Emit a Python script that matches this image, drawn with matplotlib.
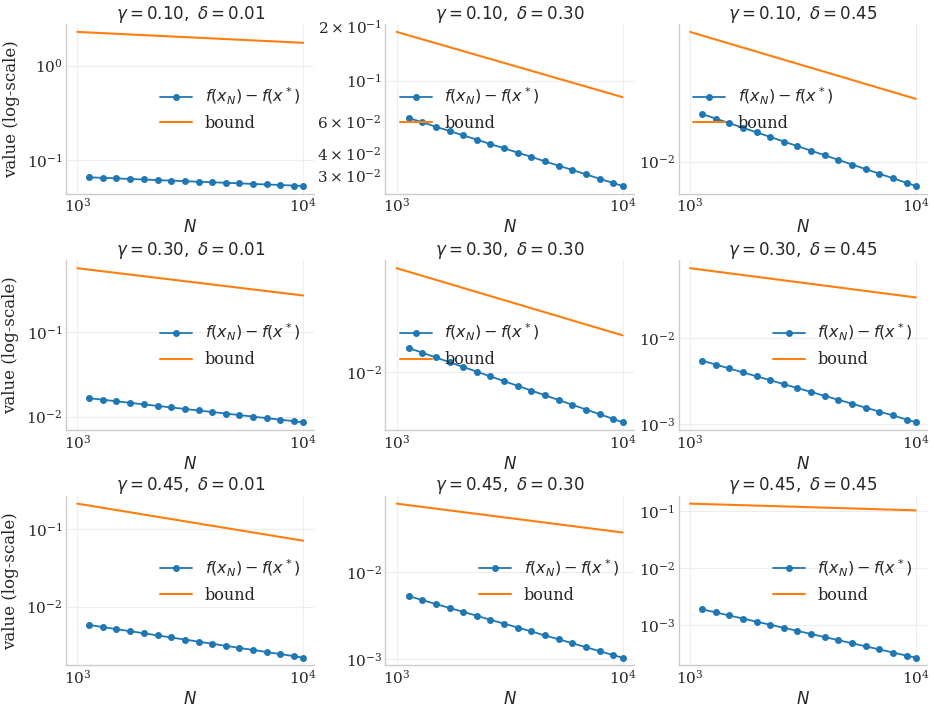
import matplotlib
matplotlib.use("Agg")
import matplotlib.pyplot as plt
import seaborn as sns

sns.set_theme(style="whitegrid", context="notebook")
plt.rcParams["font.family"] = ["DejaVu Serif"]
plt.rcParams["mathtext.fontset"] = "dejavusans"

# ---------------- data ----------------
gammas = [0.10, 0.30, 0.45]
deltas = [0.01, 0.30, 0.45]

N_vals = [1130, 1300, 1490, 1715, 1970, 2265, 2600, 2990, 3440, 3950,
          4540, 5220, 6000, 6890, 7920, 9100, 10000]
N_bound = [1000, 10000]

gap_g010_d001 = [0.0655, 0.0646, 0.0638, 0.0629, 0.0621, 0.0612, 0.0604, 0.0596, 0.0588,
                 0.0580, 0.0573, 0.0565, 0.0557, 0.0550, 0.0543, 0.0535, 0.0530]
gap_g010_d030 = [0.0622, 0.0589, 0.0557, 0.0528, 0.0499, 0.0473, 0.0447, 0.0424, 0.0401,
                 0.0380, 0.0359, 0.0340, 0.0322, 0.0305, 0.0288, 0.0273, 0.0263]
gap_g010_d045 = [0.0221, 0.02047, 0.01897, 0.01757, 0.01628, 0.01508, 0.01397, 0.01294,
                 0.01199, 0.01111, 0.01029, 0.00953, 0.00883, 0.00818, 0.00758, 0.00702, 0.00667]
gap_g030_d001 = [0.0165, 0.01583, 0.01518, 0.01456, 0.01396, 0.01339, 0.01285, 0.01232,
                 0.01182, 0.01133, 0.01087, 0.01043, 0.01000, 0.00959, 0.00920, 0.00882, 0.00857]
gap_g030_d030 = [0.01528, 0.01406, 0.01293, 0.01190, 0.01095, 0.01007, 0.00927, 0.00852,
                 0.00784, 0.00722, 0.00664, 0.00611, 0.00562, 0.00517, 0.00476, 0.00438, 0.00413]
gap_g030_d045 = [0.0055, 0.00495, 0.004455, 0.00401, 0.00361, 0.00325, 0.00292, 0.00263,
                 0.00237, 0.00213, 0.00192, 0.00173, 0.00155, 0.00140, 0.00126, 0.00113, 0.00105]
gap_g045_d001 = [0.0058, 0.00545, 0.00512, 0.00482, 0.00453, 0.00426, 0.00400, 0.00376,
                 0.00353, 0.00332, 0.00312, 0.00293, 0.00276, 0.00259, 0.00244, 0.00229, 0.00219]
gap_g045_d030 = [0.00533, 0.00480, 0.00432, 0.00389, 0.00351, 0.00316, 0.00284, 0.00256,
                 0.00231, 0.00208, 0.00187, 0.00169, 0.00152, 0.00137, 0.00123, 0.00111, 0.001035]
gap_g045_d045 = [0.00189, 0.001668, 0.001472, 0.001299, 0.001146, 0.001011, 0.000892, 0.000787,
                 0.000695, 0.000613, 0.000541, 0.000477, 0.000421, 0.000372, 0.000328, 0.000289, 0.000266]

bound_g010_d001 = [2.27, 1.74]
bound_g010_d030 = [0.185, 0.081]
bound_g010_d045 = [0.0865, 0.0284]
bound_g030_d001 = [0.57, 0.271]
bound_g030_d030 = [0.0623, 0.0191]
bound_g030_d045 = [0.0658, 0.030]
bound_g045_d001 = [0.215, 0.0713]
bound_g045_d030 = [0.0625, 0.029]
bound_g045_d045 = [0.1365, 0.104]

gaps = [[gap_g010_d001, gap_g010_d030, gap_g010_d045],
        [gap_g030_d001, gap_g030_d030, gap_g030_d045],
        [gap_g045_d001, gap_g045_d030, gap_g045_d045]]
bounds = [[bound_g010_d001, bound_g010_d030, bound_g010_d045],
          [bound_g030_d001, bound_g030_d030, bound_g030_d045],
          [bound_g045_d001, bound_g045_d030, bound_g045_d045]]

legend_locs = [["center right", "center left", "center left"],
               ["center right", "center left", "center right"],
               ["center right", "center right", "center right"]]

# ---------------- figure ----------------
fig = plt.figure(figsize=(9.34, 7.10), dpi=100)

col_left = [0.0707, 0.4126, 0.7267]
row_bottom = [0.7272, 0.3944, 0.0628]
ax_w, ax_h = 0.266, 0.2387

for i, g in enumerate(gammas):
    for j, d in enumerate(deltas):
        ax = fig.add_axes([col_left[j], row_bottom[i], ax_w, ax_h])
        ax.plot(N_vals, gaps[i][j], marker="o", markersize=4, lw=1.3,
                color="#1f77b4", label=r"$f(x_N) - f(x^*)$")
        ax.plot(N_bound, bounds[i][j], lw=1.5, color="#ff7f0e", label="bound")
        ax.set_xscale("log")
        ax.set_yscale("log")
        ax.set_title(r"$\gamma = %.2f,\ \delta = %.2f$" % (g, d), fontsize=12, pad=4)
        ax.set_xlabel(r"$N$", fontsize=12, labelpad=3)
        if j == 0:
            ax.set_ylabel("value (log-scale)", fontsize=12, labelpad=5)
        ax.tick_params(axis="both", which="both", labelsize=11, pad=2.5, length=0)
        ax.grid(True, which="major", color="#eeeeee", lw=0.8)
        ax.grid(False, which="minor")
        for s in ["top", "right"]:
            ax.spines[s].set_visible(False)
        for s in ["left", "bottom"]:
            ax.spines[s].set_color("#cccccc")
            ax.spines[s].set_linewidth(1.0)
        ax.legend(loc=legend_locs[i][j], frameon=False, fontsize=11.5)

fig.savefig("out.png", dpi=100)
